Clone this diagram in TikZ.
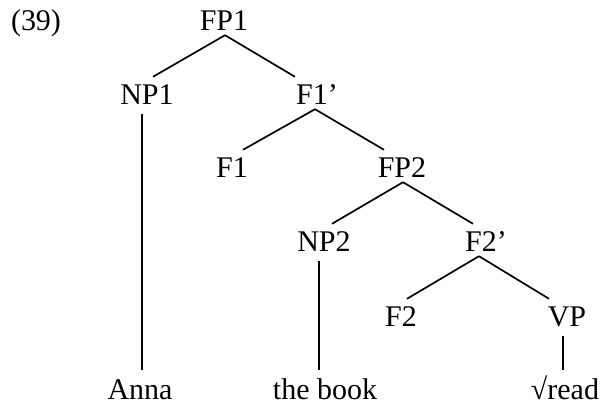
\documentclass[tikz,border=0pt]{standalone}
\usepackage{fontspec}
\setmainfont{Liberation Serif}
\begin{document}
\begin{tikzpicture}[x=1pt,y=1pt,
  lbl/.style={anchor=base,inner sep=0pt,text height=28pt,text depth=4pt,font=\fontsize{30}{36}\selectfont},
  edge/.style={line width=1.7pt}]
  \useasboundingbox (0,0) rectangle (603,406);
  \node [lbl] (ex) at (36,375) {(39)};
  \node [lbl] (fp1) at (224,375) {FP1};
  \node [lbl] (np1) at (147,301) {NP1};  \node [lbl] (f1bar) at (317,301) {F1’};
  \node [lbl] (f1) at (232,228) {F1};    \node [lbl] (fp2) at (402,228) {FP2};
  \node [lbl] (np2) at (324,154) {NP2};  \node [lbl] (f2bar) at (486,154) {F2’};
  \node [lbl] (f2) at (401,79) {F2};     \node [lbl] (vp) at (567,79) {VP};
  \node [lbl] (anna) at (140,6) {Anna};
  \node [lbl] (book) at (325,6) {the book};
  \node [lbl] (read) at (565,6) {√read};
  \draw [edge] ([xshift=1pt]fp1.south) -- ([xshift=6pt]np1.north);
  \draw [edge] ([xshift=1pt]fp1.south) -- ([xshift=-22pt]f1bar.north);
  \draw [edge] ([xshift=-2pt]f1bar.south) -- ([xshift=11pt]f1.north);
  \draw [edge] ([xshift=-2pt]f1bar.south) -- ([xshift=-18pt]fp2.north);
  \draw [edge] ([xshift=1pt]fp2.south) -- ([xshift=8pt]np2.north);
  \draw [edge] ([xshift=1pt]fp2.south) -- ([xshift=-13pt]f2bar.north);
  \draw [edge] ([xshift=-7pt]f2bar.south) -- ([xshift=6pt]f2.north);
  \draw [edge] ([xshift=-7pt]f2bar.south) -- ([xshift=-18pt]vp.north);
  \draw [edge,shorten <=5pt,shorten >=2pt] ([xshift=-5pt]np1.south) -- ([xshift=-5pt]np1.south |- anna.north);
  \draw [edge,shorten <=5pt,shorten >=2pt] ([xshift=-5pt]np2.south) -- ([xshift=-5pt]np2.south |- book.north);
  \draw [edge,shorten <=5pt,shorten >=2pt] ([xshift=-4pt]vp.south) -- ([xshift=-4pt]vp.south |- read.north);
\end{tikzpicture}
\end{document}
